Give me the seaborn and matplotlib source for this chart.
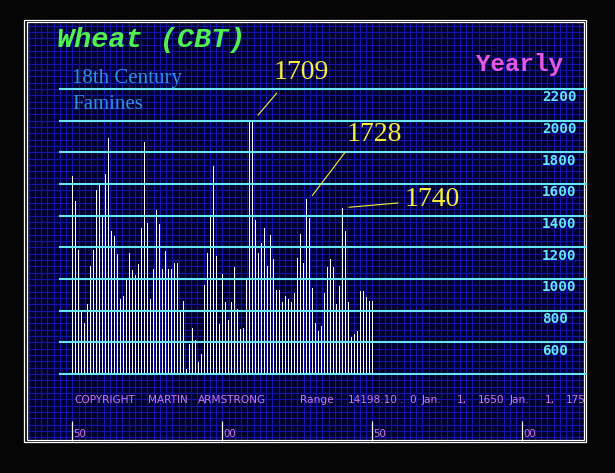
import matplotlib
matplotlib.use('Agg')
import matplotlib.pyplot as plt
import seaborn as sns
import numpy as np
from matplotlib.patches import Rectangle
from matplotlib.transforms import blended_transform_factory

# yearly wheat prices, 1650-1750
years = list(range(1650, 1751))
prices = [
    1650, 1490, 1180, 790, 720, 845, 1080, 1180, 1560, 1600,
    1400, 1660, 1890, 1305, 1270, 1155, 875, 893, 998, 1164,
    1057, 1025, 1095, 1320, 1863, 1353, 875, 1063, 1435, 1346,
    1063, 1177, 1063, 1063, 1100, 1100, 792, 861, 433, 590,
    691, 616, 475, 525, 962, 1164, 1391, 1712, 1145, 717,
    1032, 856, 743, 857, 1078, 813, 686, 693, 996, 1995,
    1995, 1375, 1166, 1229, 1324, 1084, 1280, 1128, 933, 933,
    857, 895, 876, 857, 914, 1135, 1286, 1103, 1507, 1387,
    945, 724, 674, 705, 914, 1078, 1128, 1078, 844, 958,
    1450, 1305, 857, 636, 655, 674, 926, 926, 888, 863,
    863,
]
levels = [400, 600, 800, 1000, 1200, 1400, 1600, 1800, 2000, 2200]
level_labels = ['', '600', '800', '1000', '1200', '1400', '1600', '1800', '2000', '2200']
tick_years = [1650, 1700, 1750, 1800]
tick_labels = ['50', '00', '50', '00']
famine_years = [1709, 1728, 1740]

NAVY = '#00002c'
GRID = '#1414aa'
CYAN = '#66e6f6'
PINK = '#d078ea'
YELLOW = '#f8ee3a'

W, H = 615, 473
fig = plt.figure(figsize=(6.15, 4.73), dpi=100, facecolor='#050505')

# background: panel, blue grid, double white frame (pixel coords)
bg = fig.add_axes([0, 0, 1, 1])
bg.set_xlim(0, W)
bg.set_ylim(H, 0)
bg.axis('off')
panel = Rectangle((26.5, 22.5), 558, 418, facecolor=NAVY, edgecolor='none', zorder=0)
bg.add_patch(panel)
gx = np.arange(72.3 - 6.25 * 7, 584.5, 6.25)
gy = np.arange(374 - 6.333 * 56, 440.5, 6.333)
bg.vlines(gx[gx > 26.5], 22.5, 440.5, color=GRID, lw=0.8, zorder=1)
bg.hlines(gy[gy > 22.5], 26.5, 584.5, color=GRID, lw=0.8, zorder=1)
bg.add_patch(Rectangle((24.3, 20.3), 562, 421.7, fill=False, ec='white', lw=0.9, zorder=2))
bg.add_patch(Rectangle((26.5, 22.5), 557.8, 417.8, fill=False, ec='white', lw=0.9, zorder=2))

# main chart axes
S = 200 / 31.67  # price units per pixel
ax = fig.add_axes([60 / W, 1 - 374 / H, 526 / W, 344 / H])
ax.patch.set_alpha(0)
sns.barplot(x=years, y=prices, native_scale=True, width=0.36, color='white',
            saturation=1, linewidth=0, errorbar=None, antialiased=False, ax=ax)
ax.set_xlim(1650 - 12.3 / 3, 1650 + (586 - 72.3) / 3)
ax.set_ylim(400, 400 + 344 * S)
ax.axis('off')

# cyan price levels with labels
lab_tr = blended_transform_factory(ax.transAxes, ax.transData)
for lv, lab in zip(levels, level_labels):
    ax.axhline(lv, color=CYAN, lw=1.5, zorder=3, clip_on=False)
    ax.text((542 - 60) / 526, lv - 1.5 * S, lab, transform=lab_tr, ha='left', va='top',
            color=CYAN, fontsize=10.3, family='DejaVu Sans Mono', fontweight='bold', zorder=4)

# time axis ticks below the chart
tr = blended_transform_factory(ax.transData, bg.transData)
ax.vlines(tick_years, 421, 441, transform=tr, color='white', lw=0.9, clip_on=False)
for ty, lab in zip(tick_years, tick_labels):
    ax.text(ty + 0.4, 433.5, lab, transform=tr, ha='left', va='center', color=PINK,
            fontsize=7.3, family='DejaVu Sans', clip_on=False)

# famine annotations
price_of = dict(zip(years, prices))
ann = {
    1709: ((2.9, 40), (9.2, 180), (8.2, 306)),
    1728: ((2.0, 20), (12.9, 292), (13.6, 403)),
    1740: ((2.2, 3), (18.6, 30), (20.9, 49)),
}
for yr in famine_years:
    (dx0, dy0), (dx1, dy1), (tx, ty) = ann[yr]
    v = price_of[yr]
    ax.annotate('', xy=(yr + dx0, v + dy0), xytext=(yr + dx1, v + dy1),
                arrowprops=dict(arrowstyle='-', color=YELLOW, lw=0.8, shrinkA=0, shrinkB=0))
    ax.text(yr + tx, v + ty, str(yr), ha='left', va='center', color=YELLOW,
            fontsize=20, family='Liberation Serif', zorder=5)

# titles
bg.text(57, 47, 'Wheat (CBT)', ha='left', va='baseline', color='#50f050', fontsize=20.5,
        family='Liberation Mono', fontweight='bold', fontstyle='italic')
bg.text(476, 71, 'Yearly', ha='left', va='baseline', color='#e458e4', fontsize=17.5,
        family='Liberation Mono', fontweight='bold')
bg.text(72, 83, '18th Century', ha='left', va='baseline', color='#3090e0', fontsize=15,
        family='Liberation Serif')
bg.text(72, 108.5, 'Famines', ha='left', va='baseline', color='#3090e0', fontsize=15,
        family='Liberation Serif')

# footer line
footer = [(74, 'COPYRIGHT'), (147.7, 'MARTIN'), (198, 'ARMSTRONG'), (300, 'Range'),
          (347.7, '14198.10'), (400, '.'), (409, '0'), (421.7, 'Jan.'), (456.7, '1,'),
          (477.7, '1650'), (510, 'Jan.'), (545, '1,'), (565.7, '1750')]
for fx, word in footer:
    t = bg.text(fx, 400, word, ha='left', va='center', color=PINK, fontsize=7.6,
                family='DejaVu Sans')
    t.set_clip_on(True)
    t.set_clip_path(panel)

fig.savefig('out.png', dpi=100, facecolor=fig.get_facecolor())
